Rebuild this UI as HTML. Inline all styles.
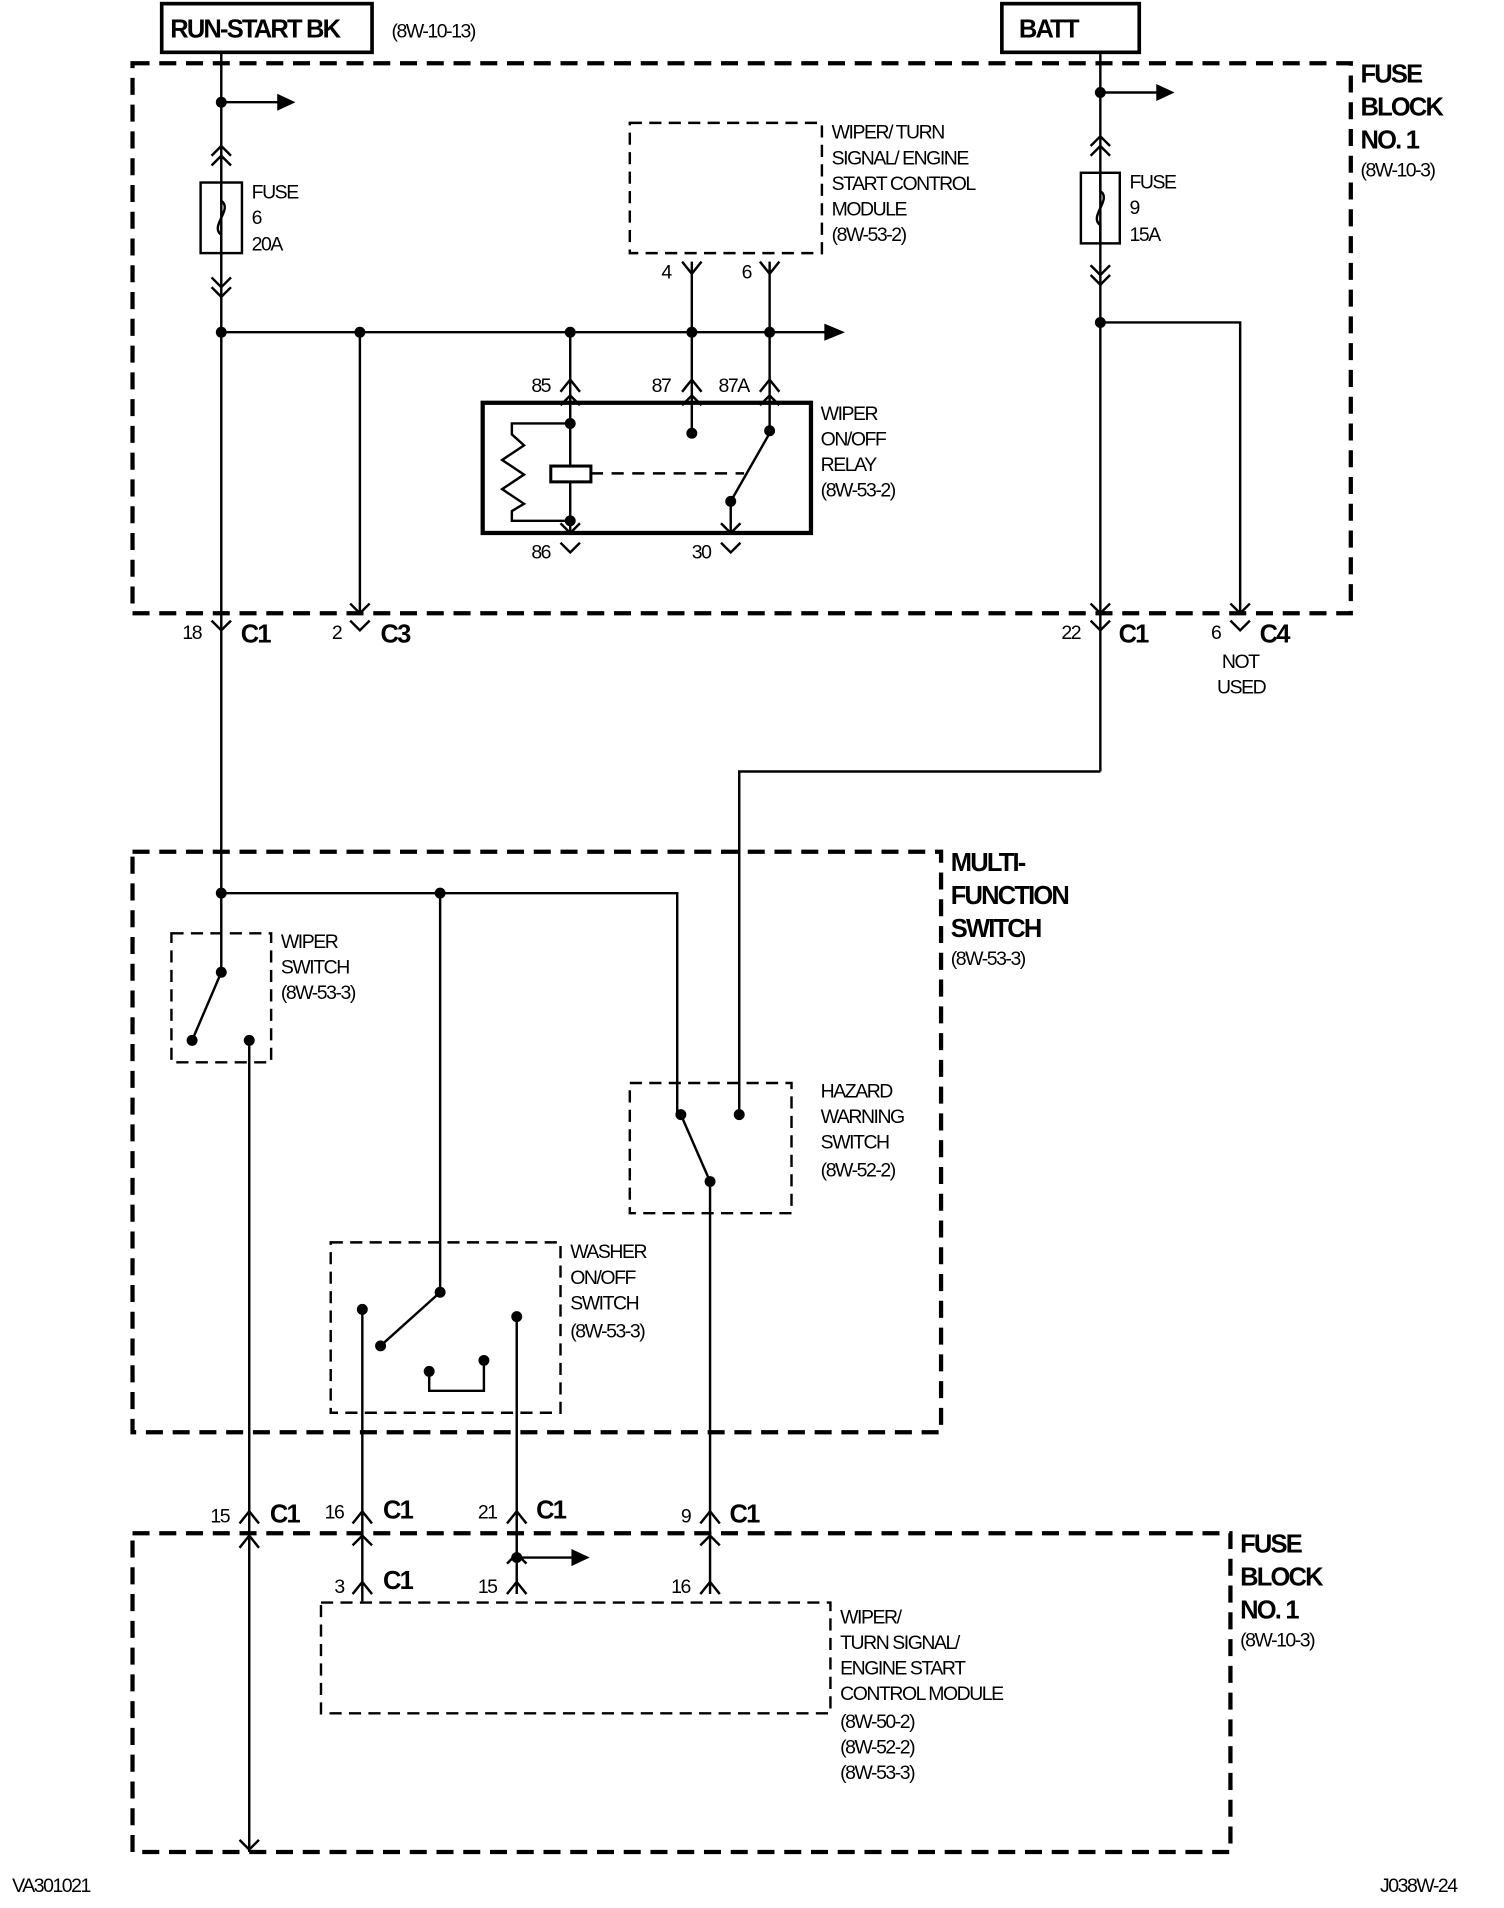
<!DOCTYPE html>
<html><head><meta charset="utf-8"><style>
html,body{margin:0;padding:0;background:#fff;}
svg{display:block;}
text{font-family:"Liberation Sans",sans-serif;font-size:16px;letter-spacing:-1.2px;fill:#000;}
.b{font-weight:bold;font-size:21px;letter-spacing:-1.5px;}
</style></head><body>
<svg width="1504" height="1908" viewBox="0 0 1237 1568" preserveAspectRatio="none" xmlns="http://www.w3.org/2000/svg">
<g fill="none" stroke="#000">
<rect x="133" y="3" width="173" height="40" stroke-width="3"/>
<rect x="824" y="3" width="113" height="40" stroke-width="3"/>
<g stroke-width="3.5" stroke-dasharray="14 8">
<rect x="109" y="52" width="1002" height="452"/>
<rect x="109" y="700" width="665" height="477"/>
<rect x="109" y="1260" width="903" height="262"/>
</g>
<g stroke-width="2" stroke-dasharray="10 6">
<rect x="518" y="101" width="158" height="107"/>
<rect x="141" y="767" width="82" height="106"/>
<rect x="518" y="890" width="133" height="107"/>
<rect x="272" y="1021" width="189" height="140"/>
<rect x="264" y="1317" width="419" height="91"/>
</g>
<g stroke-width="2">
<line x1="182" y1="43" x2="182" y2="799"/>
<line x1="182" y1="84" x2="230" y2="84"/>
<rect x="165" y="150" width="34" height="58"/>
<path d="M182 150 V165 C192 172,172 186,182 193 V208"/>
<polyline points="174,128 182,120 190,128"/><polyline points="174,136 182,128 190,136"/>
<polyline points="174,228 182,236 190,228"/><polyline points="174,236 182,244 190,236"/>
<line x1="182" y1="273" x2="680" y2="273"/>
<line x1="296" y1="273" x2="296" y2="504"/>
<polyline points="288,496 296,504 304,496"/>
<polyline points="174,510 182,518 190,510"/>
<polyline points="288,510 296,518 304,510"/>
<line x1="569" y1="215" x2="569" y2="356"/>
<line x1="633" y1="215" x2="633" y2="354"/>
<polyline points="561,215 569,225 577,215"/>
<polyline points="625,215 633,225 641,215"/>
<polyline points="461,322 469,312 477,322"/>
<polyline points="561,322 569,312 577,322"/>
<polyline points="625,322 633,312 641,322"/>
<line x1="469" y1="273" x2="469" y2="438"/>
<polyline points="461,333 469,325 477,333"/><polyline points="561,333 569,325 577,333"/><polyline points="625,333 633,325 641,333"/>
<rect x="397" y="331" width="270" height="107" stroke-width="3.5"/>
<path d="M469 348 H421 V357 L431 366 L413 378 L431 390 L413 402 L431 414 L421 420 V428 H469"/>
<rect x="453" y="383" width="33" height="13" stroke-width="2.5" fill="#fff"/>
<line x1="486" y1="389" x2="612" y2="389" stroke-dasharray="10 7"/>
<line x1="601" y1="412" x2="633" y2="356"/>
<line x1="601" y1="412" x2="601" y2="438"/>
<polyline points="461,430 469,438 477,430"/><polyline points="593,430 601,438 609,430"/>
<polyline points="461,446 469,454 477,446"/><polyline points="593,446 601,454 609,446"/>
<line x1="905" y1="43" x2="905" y2="634"/>
<line x1="905" y1="76" x2="953" y2="76"/>
<rect x="889" y="142" width="32" height="58"/>
<path d="M905 142 V157 C915 164,895 178,905 185 V200"/>
<polyline points="897,120 905,112 913,120"/><polyline points="897,128 905,120 913,128"/>
<polyline points="897,218 905,226 913,218"/><polyline points="897,226 905,234 913,226"/>
<path d="M905 265 H1020 V504"/>
<polyline points="1012,496 1020,504 1028,496"/>
<polyline points="897,496 905,504 913,496"/>
<polyline points="897,510 905,518 913,510"/>
<polyline points="1012,510 1020,518 1028,510"/>
<path d="M905 634 H608 V916"/>
<path d="M182 734 H557 V916"/>
<line x1="362" y1="734" x2="362" y2="1062"/>
<line x1="182" y1="799" x2="158" y2="855"/>
<line x1="205" y1="855" x2="205" y2="1522"/>
<line x1="560" y1="916" x2="584" y2="971"/>
<line x1="584" y1="971" x2="584" y2="1310"/>
<line x1="362" y1="1062" x2="313" y2="1106"/>
<line x1="298" y1="1076" x2="298" y2="1316"/>
<line x1="425" y1="1082" x2="425" y2="1310"/>
<path d="M353 1127 V1143 H398 V1118"/>
<polyline points="197,1252 205,1242 213,1252"/>
<polyline points="290,1252 298,1242 306,1252"/>
<polyline points="417,1252 425,1242 433,1252"/>
<polyline points="576,1252 584,1242 592,1252"/>
<polyline points="197,1272 205,1262 213,1272"/>
<polyline points="197,1512 205,1520 213,1512"/>
<polyline points="290,1270 298,1262 306,1270"/>
<polyline points="576,1270 584,1262 592,1270"/>
<polyline points="417,1285 425,1277 433,1285" />
<line x1="425" y1="1280" x2="472" y2="1280"/>
<polyline points="290,1310 298,1300 306,1310"/>
<polyline points="417,1310 425,1300 433,1310"/>
<polyline points="576,1310 584,1300 592,1310"/>
</g>
</g>
<g fill="#000">
<polygon points="228,77 243,84 228,91"/>
<polygon points="951,69 966,76 951,83"/>
<polygon points="678,266 695,273 678,280"/>
<polygon points="470,1273 485,1280 470,1287"/>
<circle cx="182" cy="84" r="4.5"/><circle cx="905" cy="76" r="4.5"/>
<circle cx="182" cy="273" r="4.5"/><circle cx="296" cy="273" r="4.5"/><circle cx="469" cy="273" r="4.5"/><circle cx="569" cy="273" r="4.5"/><circle cx="633" cy="273" r="4.5"/>
<circle cx="469" cy="348" r="4.5"/><circle cx="469" cy="428" r="4.5"/><circle cx="569" cy="356" r="4.5"/><circle cx="633" cy="354" r="4.5"/><circle cx="601" cy="412" r="4.5"/>
<circle cx="905" cy="265" r="4.5"/>
<circle cx="182" cy="734" r="4.5"/><circle cx="362" cy="734" r="4.5"/>
<circle cx="182" cy="799" r="4.5"/><circle cx="158" cy="855" r="4.5"/><circle cx="205" cy="855" r="4.5"/>
<circle cx="560" cy="916" r="4.5"/><circle cx="608" cy="916" r="4.5"/><circle cx="584" cy="971" r="4.5"/>
<circle cx="362" cy="1062" r="4.5"/><circle cx="313" cy="1106" r="4.5"/><circle cx="298" cy="1076" r="4.5"/><circle cx="425" cy="1082" r="4.5"/><circle cx="353" cy="1127" r="4.5"/><circle cx="398" cy="1118" r="4.5"/>
<circle cx="425" cy="1280" r="4.5"/>
</g>
<text class="b" x="140" y="31">RUN-START BK</text>
<text x="322" y="31">(8W-10-13)</text>
<text class="b" x="838" y="31">BATT</text>
<text class="b" x="1119" y="68">FUSE</text><text class="b" x="1119" y="95">BLOCK</text><text class="b" x="1119" y="122">NO. 1</text><text x="1119" y="145">(8W-10-3)</text>
<text x="207" y="163">FUSE</text><text x="207" y="184">6</text><text x="207" y="206">20A</text>
<text x="929" y="155">FUSE</text><text x="929" y="176">9</text><text x="929" y="198">15A</text>
<text x="684" y="114">WIPER/ TURN</text><text x="684" y="135">SIGNAL/ ENGINE</text><text x="684" y="156">START CONTROL</text><text x="684" y="177">MODULE</text><text x="684" y="198">(8W-53-2)</text>
<text x="544" y="229">4</text><text x="610" y="229">6</text>
<text x="437" y="322">85</text><text x="536" y="322">87</text><text x="591" y="322">87A</text>
<text x="675" y="345">WIPER</text><text x="675" y="366">ON/OFF</text><text x="675" y="387">RELAY</text><text x="675" y="408">(8W-53-2)</text>
<text x="437" y="459">86</text><text x="569" y="459">30</text>
<text x="150" y="525">18</text><text class="b" x="198" y="528">C1</text>
<text x="273" y="525">2</text><text class="b" x="313" y="528">C3</text>
<text x="873" y="525">22</text><text class="b" x="920" y="528">C1</text>
<text x="996" y="525">6</text><text class="b" x="1036" y="528">C4</text>
<text x="1005" y="549">NOT</text><text x="1001" y="570">USED</text>
<text class="b" x="782" y="716">MULTI-</text><text class="b" x="782" y="743">FUNCTION</text><text class="b" x="782" y="770">SWITCH</text><text x="782" y="793">(8W-53-3)</text>
<text x="231" y="779">WIPER</text><text x="231" y="800">SWITCH</text><text x="231" y="821">(8W-53-3)</text>
<text x="675" y="902">HAZARD</text><text x="675" y="923">WARNING</text><text x="675" y="944">SWITCH</text><text x="675" y="967">(8W-52-2)</text>
<text x="469" y="1034">WASHER</text><text x="469" y="1055">ON/OFF</text><text x="469" y="1076">SWITCH</text><text x="469" y="1099">(8W-53-3)</text>
<text x="173" y="1251">15</text><text class="b" x="222" y="1251">C1</text>
<text x="267" y="1248">16</text><text class="b" x="315" y="1248">C1</text>
<text x="393" y="1248">21</text><text class="b" x="441" y="1248">C1</text>
<text x="560" y="1251">9</text><text class="b" x="600" y="1251">C1</text>
<text x="275" y="1309">3</text><text class="b" x="315" y="1306">C1</text>
<text x="393" y="1309">15</text><text x="552" y="1309">16</text>
<text class="b" x="1020" y="1276">FUSE</text><text class="b" x="1020" y="1303">BLOCK</text><text class="b" x="1020" y="1330">NO. 1</text><text x="1020" y="1353">(8W-10-3)</text>
<text x="691" y="1334">WIPER/</text><text x="691" y="1355">TURN SIGNAL/</text><text x="691" y="1376">ENGINE START</text><text x="691" y="1397">CONTROL MODULE</text><text x="691" y="1420">(8W-50-2)</text><text x="691" y="1441">(8W-52-2)</text><text x="691" y="1462">(8W-53-3)</text>
<text x="10" y="1555">VA301021</text><text x="1135" y="1555">J038W-24</text>
</svg>
</body></html>
